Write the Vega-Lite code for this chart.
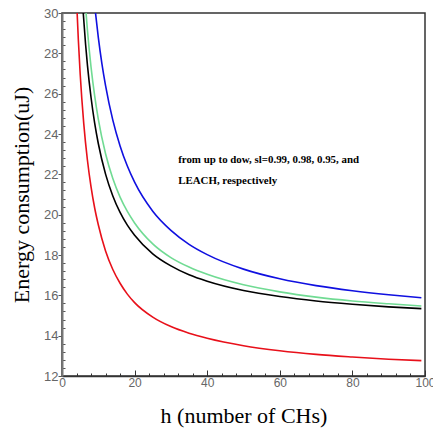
{
  "$schema": "https://vega.github.io/schema/vega-lite/v6.json",
  "width": 363,
  "height": 363,
  "autosize": {"type": "none"},
  "padding": {"left": 62, "top": 13, "right": 8, "bottom": 58},
  "background": "white",
  "config": {"view": {"stroke": "#333333", "strokeWidth": 1.5}},
  "encoding": {
    "x": {
      "field": "h", "type": "quantitative",
      "scale": {"domain": [0, 100], "nice": false},
      "axis": {
        "values": [0, 4, 8, 12, 16, 20, 24, 28, 32, 36, 40, 44, 48, 52, 56, 60, 64, 68, 72, 76, 80, 84, 88, 92, 96, 100],
        "format": "d",
        "labelExpr": "datum.value % 20 === 0 ? datum.label : ''",
        "tickSize": {"condition": {"test": "datum.value % 20 === 0", "value": -6}, "value": -3},
        "labelOverlap": false, "labelFlush": false, "labelPadding": 7, "labelBound": false,
        "labelFont": "Liberation Sans", "labelFontSize": 12, "labelColor": "#666666",
        "tickColor": "#333333", "domainColor": "#333333", "domainWidth": 1.5, "grid": false,
        "title": "h (number of CHs)", "titleFont": "Liberation Serif", "titleFontSize": 22,
        "titleFontWeight": "normal", "titleColor": "#000000", "titlePadding": 14
      }
    },
    "y": {
      "field": "E", "type": "quantitative",
      "scale": {"domain": [12, 30], "nice": false, "zero": false},
      "axis": {
        "values": [12, 12.4, 12.8, 13.2, 13.6, 14, 14.4, 14.8, 15.2, 15.6, 16, 16.4, 16.8, 17.2, 17.6, 18, 18.4, 18.8, 19.2, 19.6, 20, 20.4, 20.8, 21.2, 21.6, 22, 22.4, 22.8, 23.2, 23.6, 24, 24.4, 24.8, 25.2, 25.6, 26, 26.4, 26.8, 27.2, 27.6, 28, 28.4, 28.8, 29.2, 29.6, 30],
        "labelExpr": "datum.value % 2 === 0 ? format(datum.value, 'd') : ''",
        "tickSize": {"condition": {"test": "datum.value % 2 === 0", "value": 4}, "value": -3},
        "labelOverlap": false, "labelFlush": false, "labelPadding": 0, "labelBound": false, "labelSeparation": 0,
        "labelFont": "Liberation Sans", "labelFontSize": 13, "labelColor": "#666666",
        "tickColor": "#555555", "domainColor": "#777777", "domainWidth": 2, "grid": false,
        "title": "Energy consumption(uJ)", "titleFont": "Liberation Serif", "titleFontSize": 22,
        "titleFontWeight": "normal", "titleColor": "#000000", "titlePadding": 10
      }
    }
  },
  "layer": [
    {
      "data": {"values": [
        {"series": "LEACH", "h": 4.1, "E": 30.29}, {"series": "LEACH", "h": 4.5, "E": 28.67}, {"series": "LEACH", "h": 5, "E": 27.0}, {"series": "LEACH", "h": 6, "E": 24.5}, {"series": "LEACH", "h": 7, "E": 22.71}, {"series": "LEACH", "h": 8, "E": 21.38}, {"series": "LEACH", "h": 9, "E": 20.33}, {"series": "LEACH", "h": 10, "E": 19.5}, {"series": "LEACH", "h": 12, "E": 18.2}, {"series": "LEACH", "h": 14, "E": 17.28}, {"series": "LEACH", "h": 16, "E": 16.6}, {"series": "LEACH", "h": 18, "E": 16.06}, {"series": "LEACH", "h": 20, "E": 15.64}, {"series": "LEACH", "h": 25, "E": 14.92}, {"series": "LEACH", "h": 30, "E": 14.45}, {"series": "LEACH", "h": 35, "E": 14.12}, {"series": "LEACH", "h": 40, "E": 13.87}, {"series": "LEACH", "h": 50, "E": 13.5}, {"series": "LEACH", "h": 60, "E": 13.25}, {"series": "LEACH", "h": 70, "E": 13.07}, {"series": "LEACH", "h": 80, "E": 12.94}, {"series": "LEACH", "h": 90, "E": 12.83}, {"series": "LEACH", "h": 99, "E": 12.76},
        {"series": "sl=0.95", "h": 5.8, "E": 30.13}, {"series": "sl=0.95", "h": 6.5, "E": 28.44}, {"series": "sl=0.95", "h": 7, "E": 27.43}, {"series": "sl=0.95", "h": 8, "E": 25.81}, {"series": "sl=0.95", "h": 9, "E": 24.54}, {"series": "sl=0.95", "h": 10, "E": 23.53}, {"series": "sl=0.95", "h": 12, "E": 22.01}, {"series": "sl=0.95", "h": 14, "E": 20.93}, {"series": "sl=0.95", "h": 16, "E": 20.11}, {"series": "sl=0.95", "h": 18, "E": 19.48}, {"series": "sl=0.95", "h": 20, "E": 18.98}, {"series": "sl=0.95", "h": 25, "E": 18.06}, {"series": "sl=0.95", "h": 30, "E": 17.46}, {"series": "sl=0.95", "h": 35, "E": 17.02}, {"series": "sl=0.95", "h": 40, "E": 16.7}, {"series": "sl=0.95", "h": 50, "E": 16.24}, {"series": "sl=0.95", "h": 60, "E": 15.94}, {"series": "sl=0.95", "h": 70, "E": 15.72}, {"series": "sl=0.95", "h": 80, "E": 15.56}, {"series": "sl=0.95", "h": 90, "E": 15.43}, {"series": "sl=0.95", "h": 99, "E": 15.34},
        {"series": "sl=0.98", "h": 6.5, "E": 30.29}, {"series": "sl=0.98", "h": 7, "E": 29.16}, {"series": "sl=0.98", "h": 8, "E": 27.32}, {"series": "sl=0.98", "h": 9, "E": 25.89}, {"series": "sl=0.98", "h": 10, "E": 24.74}, {"series": "sl=0.98", "h": 12, "E": 23.02}, {"series": "sl=0.98", "h": 14, "E": 21.79}, {"series": "sl=0.98", "h": 16, "E": 20.87}, {"series": "sl=0.98", "h": 18, "E": 20.16}, {"series": "sl=0.98", "h": 20, "E": 19.59}, {"series": "sl=0.98", "h": 25, "E": 18.55}, {"series": "sl=0.98", "h": 30, "E": 17.87}, {"series": "sl=0.98", "h": 35, "E": 17.4}, {"series": "sl=0.98", "h": 40, "E": 17.04}, {"series": "sl=0.98", "h": 50, "E": 16.52}, {"series": "sl=0.98", "h": 60, "E": 16.17}, {"series": "sl=0.98", "h": 70, "E": 15.91}, {"series": "sl=0.98", "h": 80, "E": 15.72}, {"series": "sl=0.98", "h": 90, "E": 15.58}, {"series": "sl=0.98", "h": 99, "E": 15.47},
        {"series": "sl=0.99", "h": 9.1, "E": 30.21}, {"series": "sl=0.99", "h": 10, "E": 28.79}, {"series": "sl=0.99", "h": 11, "E": 27.48}, {"series": "sl=0.99", "h": 12, "E": 26.4}, {"series": "sl=0.99", "h": 14, "E": 24.69}, {"series": "sl=0.99", "h": 16, "E": 23.41}, {"series": "sl=0.99", "h": 18, "E": 22.41}, {"series": "sl=0.99", "h": 20, "E": 21.61}, {"series": "sl=0.99", "h": 25, "E": 20.17}, {"series": "sl=0.99", "h": 30, "E": 19.22}, {"series": "sl=0.99", "h": 35, "E": 18.53}, {"series": "sl=0.99", "h": 40, "E": 18.02}, {"series": "sl=0.99", "h": 50, "E": 17.3}, {"series": "sl=0.99", "h": 60, "E": 16.82}, {"series": "sl=0.99", "h": 70, "E": 16.48}, {"series": "sl=0.99", "h": 80, "E": 16.23}, {"series": "sl=0.99", "h": 90, "E": 16.03}, {"series": "sl=0.99", "h": 99, "E": 15.88}
      ]},
      "mark": {"type": "line", "interpolate": "monotone", "strokeWidth": 1.6, "clip": true},
      "encoding": {
        "color": {
          "field": "series", "type": "nominal",
          "scale": {"domain": ["sl=0.99", "sl=0.98", "sl=0.95", "LEACH"], "range": ["#1010e0", "#70db93", "#000000", "#e8101a"]},
          "legend": null
        }
      }
    },
    {
      "data": {"values": [
        {"h": 32, "E": 22.71, "t": "from up to dow, sl=0.99, 0.98, 0.95, and"},
        {"h": 32, "E": 21.67, "t": "LEACH, respectively"}
      ]},
      "mark": {"type": "text", "align": "left", "baseline": "middle", "font": "Liberation Serif", "fontWeight": "bold", "fontSize": 10.9, "color": "#000000"},
      "encoding": {
        "text": {"field": "t"}
      }
    }
  ]
}
